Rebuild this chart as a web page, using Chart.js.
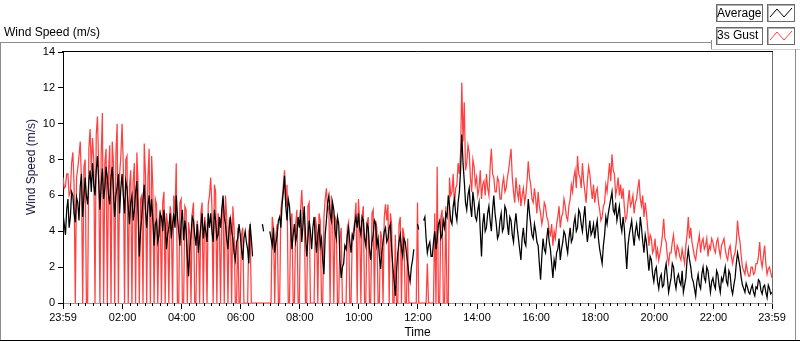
<!DOCTYPE html>
<html><head><meta charset="utf-8">
<script src="https://cdn.jsdelivr.net/npm/chart.js@4.4.0/dist/chart.umd.min.js"></script>
<style>
html,body{margin:0;padding:0;background:#fff;}
#wrap{position:relative;width:800px;height:342px;overflow:hidden;font-family:"Liberation Sans",Arial,sans-serif;}
#c{position:absolute;left:0;top:0;}
.ln{position:absolute;}
.txt{position:absolute;font-size:12px;color:#000;white-space:nowrap;line-height:14px;}
.box{position:absolute;border:1px solid #6a6a6a;box-shadow:inset 1px 1px 0 #b4b4b4;background:#fff;box-sizing:border-box;}
</style></head><body>
<div id="wrap">
  <div class="ln" style="left:0;top:42px;width:711px;height:1px;background:#8c8c8c"></div>
  <div class="ln" style="left:0;top:42px;width:1px;height:299px;background:#8c8c8c"></div>
  <div class="ln" style="left:711px;top:40px;width:1px;height:9px;background:#8c8c8c"></div>
  <div class="ln" style="left:711px;top:49px;width:89px;height:1px;background:#cfcfcf"></div>
  <div class="ln" style="left:795px;top:49px;width:1px;height:292px;background:#8c8c8c"></div>
  <div class="ln" style="left:0;top:340px;width:800px;height:1px;background:#000"></div>
  <canvas id="c" width="800" height="342"></canvas>
  <div class="txt" style="left:4px;top:25px">Wind Speed (m/s)</div>
  <div class="txt" style="left:31px;top:167px;transform:translate(-50%,-50%) rotate(-90deg);color:#15153a">Wind Speed (m/s)</div>
  <div class="box" style="left:716px;top:4px;width:47px;height:18px"></div>
  <div class="txt" style="left:717px;top:6px">Average</div>
  <div class="box" style="left:767px;top:4px;width:28px;height:18px"></div>
  <svg style="position:absolute;left:767px;top:4px" width="28" height="18"><polyline points="3,13 10,5 17,13 25,4" fill="none" stroke="#000" stroke-width="1"/></svg>
  <div class="box" style="left:716px;top:27px;width:47px;height:18px"></div>
  <div class="txt" style="left:717px;top:28px">3s Gust</div>
  <div class="box" style="left:767px;top:27px;width:28px;height:18px"></div>
  <svg style="position:absolute;left:767px;top:27px" width="28" height="18"><polyline points="3,13 10,5 17,13 25,4" fill="none" stroke="#ff4040" stroke-width="1"/></svg>
</div>
<script>
// sampling interval of the readings, in minutes from 23:59
const SAMPLE_MINUTES = 2.5;

// Average wind speed (m/s), one row per hour; null = no reading
const AVERAGE = [
  5.0,4.4, 3.8,5.2, 5.8,4.2, 4.8,6.2, 6.0,5.0, 4.5,5.9, 5.6,4.6, 6.5,7.2, 4.8,5.9, 7.0,6.0, 5.5,6.8, 7.4,6.2,
  7.8,6.6, 6.0,7.4, 8.2,6.8, 5.2,6.6, 7.5,5.8, 6.4,7.6, 7.0,6.0, 5.5,7.0, 7.6,6.2, 4.8,6.0, 6.5,7.2, 5.0,6.4,
  7.2,6.0, 5.0,6.8, 6.4,5.4, 4.4,5.6, 6.0,4.6, 5.2,6.2, 6.8,5.0, 2.6,4.0, 4.8,5.8, 6.6,5.2, 4.2,5.4, 6.0,4.8,
  5.8,4.6, 3.2,4.4, 4.6,3.4, 3.8,5.0, 4.8,4.0, 5.2,4.4, 3.0,3.8, 4.2,5.0, 3.6,4.4, 5.0,4.2, 6.0,4.8, 4.0,3.2,
  4.5,5.2, 3.5,4.6, 4.0,2.6, 1.5,3.0, 3.8,4.8, 4.6,3.8, 3.2,4.4, 2.8,3.6, 4.3,5.0, 3.6,4.4, 4.0,3.4, 5.0,4.2,
  5.0,4.0, 3.4,5.2, 4.6,3.6, 3.8,4.8, 4.2,5.2, 6.0,4.8, 4.4,3.6, 3.0,4.2, 4.8,4.0, 3.6,2.8, 2.4,3.4, 3.6,4.4,
  3.8,3.0, 2.4,3.6, 4.0,3.4, 3.0,2.2, 4.4,3.6, 2.6,null, null,null, null,null, null,null, 4.4,4.0, null,null, null,null,
  4.0,3.6, 3.2,4.2, 2.8,3.4, 3.8,4.6, 4.8,4.2, 5.5,6.2, 7.1,5.4, 4.6,5.8, 5.4,4.2, 3.0,3.8, 4.4,3.4, 3.8,4.8,
  4.2,5.2, 3.4,4.4, 5.4,3.8, 2.6,3.6, 4.6,4.0, 3.0,4.2, 4.8,3.6, 2.8,3.8, 4.4,3.2, 3.6,2.4, 1.6,3.8, 4.6,5.6,
  6.0,5.0, 4.6,5.6, 5.2,4.0, 3.6,4.8, 4.4,2.4, 1.4,2.0, 2.2,3.2, 3.0,3.8, 4.2,3.4, 2.8,3.8, 3.6,4.4, 4.8,4.2,
  5.0,4.2, 3.8,4.8, 4.6,3.6, 3.2,4.4, 4.2,3.0, 2.4,3.4, 3.8,4.6, 4.4,3.2, 3.6,2.6, 1.9,2.8, 3.4,4.0, 4.2,3.4,
  3.6,4.2, 4.4,3.0, 2.0,1.2, 0.4,1.8, 2.8,3.4, 3.8,3.0, 2.6,3.6, 3.4,2.8, 2.2,1.6, 1.2,2.0, 2.4,3.0, null,null,
  4.4,4.1, null,null, null,4.6, 4.8,3.6, 2.8,3.2, 3.4,2.6, 2.6,3.4, 4.0,3.0, 3.6,4.4, 4.6,3.6, 3.8,4.6, 4.2,5.0,
  4.8,6.0, 5.4,4.6, 4.4,5.4, 5.8,5.0, 4.6,5.6, 6.2,7.4, 9.4,7.8, 6.8,5.6, 5.2,6.0, 6.4,5.4, 4.8,6.2, 5.6,4.8,
  4.6,5.2, 5.6,4.0, 2.6,4.4, 5.0,4.0, 4.2,5.0, 5.4,4.6, 4.0,5.2, 6.0,5.0, 4.4,3.6, 3.8,4.6, 5.0,4.0, 4.2,5.4,
  5.2,4.4, 3.8,4.8, 4.6,3.8, 3.4,4.4, 5.0,4.2, 3.6,3.0, 2.4,3.6, 4.2,3.4, 3.2,4.6, 5.8,5.0, 4.4,3.8, 3.6,4.4,
  4.0,3.4, 3.2,2.2, 1.3,2.6, 3.6,3.0, 2.8,3.6, 4.2,3.4, 3.0,2.2, 1.4,2.4, 2.0,2.8, 3.0,3.6, 2.4,3.0, 3.4,4.0,
  3.8,3.2, 2.8,3.6, 4.2,3.4, 3.6,4.4, 4.8,4.0, 4.2,5.2, 5.0,4.4, 4.0,4.8, 5.4,4.2, 3.4,4.0, 4.6,3.8, 4.0,4.4,
  3.6,4.2, 4.6,3.6, 3.0,2.6, 2.2,3.2, 3.8,4.8, 4.4,5.0, 5.4,5.8, 6.2,5.2, 5.0,5.6, 4.6,5.0, 5.4,4.4, 4.0,4.8,
  4.2,3.0, 1.9,3.2, 3.8,4.2, 4.6,3.8, 3.2,4.0, 4.4,3.8, 3.6,4.8, 4.2,3.4, 2.8,3.8, 3.4,2.6, 1.8,2.6, 2.4,1.6,
  1.2,1.8, 2.0,1.2, 0.8,1.4, 1.6,0.9, 1.0,1.8, 2.2,1.4, 0.6,1.0, 1.4,2.2, 2.0,1.2, 0.8,1.4, 1.6,1.2, 1.0,1.8,
  0.6,1.0, 1.4,2.4, 3.0,2.4, 2.0,1.4, 1.2,0.8, 0.4,1.2, 1.6,1.0, 0.8,1.6, 2.0,1.4, 1.2,2.0, 1.8,1.2, 0.6,1.2,
  1.4,1.0, 0.8,1.8, 1.6,1.0, 0.6,1.4, 1.2,1.6, 2.0,1.2, 1.0,1.8, 1.6,0.8, 0.5,1.0, 1.4,2.2, 2.8,2.4, 2.0,1.4,
  1.0,0.8, 0.6,1.1, 0.9,0.6, 0.5,0.8, 1.0,0.6, 0.4,0.9, 0.8,1.3, 1.2,0.7, 0.5,0.9, 1.0,0.6, 0.3,1.0, 0.8,0.5,
  0.6
];

// 3 s gust (m/s), one row per hour
const GUST = [
  7.0,6.4, 6.5,7.2, 7.2,6.0, 6.2,7.8, 8.4,6.6, 0,7.0, 7.5,8.2, 9.0,6.8, 0,7.6, 8.0,0, 0,8.6, 9.7,7.4,
  9.2,8.0, 0,9.4, 10.4,7.6, 0,8.2, 10.6,0, 7.8,8.6, 0,7.4, 8.8,0, 9.0,7.8, 0,8.4, 10.0,0, 7.2,8.2,
  10.0,7.6, 0,8.0, 8.2,0, 6.5,7.4, 0,6.8, 7.8,0, 8.4,6.6, 0,5.8, 6.0,0, 8.9,7.2, 0,7.0, 8.6,0,
  8.2,6.4, 0,5.8, 5.5,0, 4.6,5.2, 0,5.6, 6.2,0, 5.0,4.4, 0,5.4, 4.8,0, 6.0,5.0, 7.8,0, 0,5.6,
  5.8,0, 0,5.4, 5.2,0, 4.5,3.8, 0,5.0, 5.6,0, 0,4.6, 4.0,0, 5.0,5.6, 0,4.8, 4.4,0, 5.5,6.0,
  7.0,5.4, 0,6.6, 6.2,0, 5.0,4.4, 0,5.2, 5.6,0, 6.0,4.8, 0,4.6, 4.8,0, 5.4,4.2, 0,0, 4.2,0,
  0,3.8, 4.2,0, 0,0, 0,4.0, 4.3,0, 0,0, 0,0, 0,0, 0,0, 0,0, 0,0, 0,0,
  0,0, 4.8,4.2, 0,3.8, 4.4,0, 0,5.2, 5.8,6.6, 7.4,5.4, 6.6,0, 0,4.6, 5.0,0, 0,4.4, 5.2,0,
  0,5.2, 6.3,4.6, 5.0,0, 0,5.4, 5.6,0, 0,0, 0,4.8, 4.2,0, 5.0,4.6, 0,0, 4.8,5.8, 6.4,5.2,
  5.4,0, 6.0,5.0, 0,4.8, 4.6,0, 0,3.6, 4.2,0, 0,0, 0,4.2, 4.5,0, 0,3.8, 4.0,4.6, 5.6,0,
  5.8,4.6, 0,4.8, 5.4,0, 0,4.4, 4.8,0, 0,5.0, 5.2,0, 4.6,4.2, 0,0, 4.0,3.6, 0,4.8, 5.5,4.6,
  5.5,0, 5.0,4.4, 0,0, 3.8,0, 0,4.4, 4.8,0, 4.2,3.8, 0,0, 3.6,0, 0,0, 0,0, 0,0,
  5.6,0, 0,0, 0,0, 0,0, 2.2,0, 0,0, 0,0, 5.0,0, 7.6,0, 0,4.8, 5.2,0, 0,5.4,
  0,0, 7.0,6.0, 6.2,7.2, 5.4,6.4, 6.6,7.8, 7.2,8.4, 12.3,9.0, 11.2,7.4, 7.8,8.8, 8.4,7.0, 6.2,8.0, 7.6,6.6,
  7.0,6.0, 6.4,7.4, 5.8,6.6, 6.8,6.0, 7.2,6.4, 6.0,7.6, 8.6,7.2, 7.0,6.2, 6.2,7.0, 6.8,5.8, 5.8,6.6, 7.0,6.2,
  6.4,7.0, 7.4,8.0, 8.6,7.0, 6.2,5.6, 7.0,6.2, 5.8,6.6, 5.4,6.0, 6.4,5.6, 6.0,6.8, 7.9,7.0, 6.6,5.8, 5.6,6.4,
  5.8,5.0, 6.2,5.4, 5.0,4.4, 4.8,5.6, 5.4,4.8, 4.6,4.0, 3.8,4.4, 3.2,4.0, 3.6,4.4, 4.8,5.4, 4.2,4.8, 5.0,5.8,
  5.4,4.8, 4.6,5.4, 5.8,6.6, 6.2,7.0, 7.4,6.4, 8.2,7.2, 7.0,6.4, 7.8,6.8, 6.2,5.6, 6.8,7.6, 7.2,6.4, 5.8,6.6,
  5.6,6.2, 6.4,5.6, 5.2,4.6, 4.8,5.4, 5.6,6.6, 6.2,7.0, 7.8,6.8, 8.3,7.4, 7.2,6.0, 6.4,7.0, 6.0,6.6, 5.8,6.4,
  5.4,4.6, 4.8,5.6, 6.3,5.4, 5.6,6.0, 5.0,5.6, 5.8,6.4, 6.9,5.8, 5.4,6.0, 4.8,5.6, 5.0,4.2, 3.2,3.8, 3.6,2.8,
  3.0,3.6, 2.6,3.0, 2.4,2.8, 3.2,3.8, 4.7,3.6, 3.4,2.6, 2.2,2.8, 2.8,3.4, 3.8,3.0, 2.6,3.2, 3.0,2.6, 2.4,3.0,
  2.6,2.2, 3.2,3.8, 4.8,3.6, 4.2,3.4, 3.0,2.6, 2.4,3.0, 3.4,3.8, 2.8,3.4, 3.6,3.0, 3.2,3.6, 2.6,3.2, 3.0,3.6,
  3.4,3.0, 2.8,3.4, 3.6,3.0, 2.6,3.2, 3.4,3.6, 3.0,2.6, 2.4,3.0, 3.2,2.6, 2.2,2.6, 2.8,3.4, 4.6,3.8, 3.4,2.6,
  2.0,1.8, 1.6,2.2, 1.8,1.5, 1.5,2.0, 2.0,1.6, 1.7,2.2, 2.2,2.6, 3.4,2.4, 2.0,2.6, 3.2,2.2, 1.6,1.9, 2.0,1.7,
  1.4
];

// x axis: minutes after 23:59
const X_TICK_VALUES = [0,121,241,361,481,601,721,841,961,1081,1201,1321,1440];
const X_TICK_LABELS = ["23:59","02:00","04:00","06:00","08:00","10:00","12:00","14:00","16:00","18:00","20:00","22:00","23:59"];
const X_MIN = 0, X_MAX = 1440;
const Y_MIN = 0, Y_MAX = 14, Y_STEP = 2;
const MINOR_STEP = 15;

const toPoints = arr => arr.map((v, i) => ({x: i * SAMPLE_MINUTES, y: v}));

const minorTicks = [];
for (let k = 0; k < X_TICK_VALUES.length - 1; k++) {
  for (let m = X_TICK_VALUES[k] + MINOR_STEP; m < X_TICK_VALUES[k + 1] - 5; m += MINOR_STEP) minorTicks.push(m);
}

const framePlugin = {
  id: 'frame',
  afterDraw(chart) {
    const {ctx, chartArea: a, scales: {x}} = chart;
    ctx.save();
    ctx.lineWidth = 1;
    ctx.strokeStyle = '#000';
    ctx.beginPath();
    for (const m of minorTicks) {
      const px = Math.round(x.getPixelForValue(m)) + 0.5;
      ctx.moveTo(px, a.bottom); ctx.lineTo(px, a.bottom + 3);
    }
    ctx.stroke();
    ctx.beginPath();
    ctx.moveTo(a.left - 1, a.top - 0.5); ctx.lineTo(a.right + 1, a.top - 0.5);
    ctx.stroke();
    ctx.strokeStyle = '#6e6e6e';
    ctx.beginPath();
    ctx.moveTo(a.right + 0.5, a.top); ctx.lineTo(a.right + 0.5, a.bottom);
    ctx.stroke();
    ctx.restore();
  }
};

const tickFont = {family: '"Liberation Sans", Arial, sans-serif', size: 11};

new Chart(document.getElementById('c'), {
  type: 'line',
  data: {
    datasets: [
      {label: 'Average', data: toPoints(AVERAGE), borderColor: '#000', borderWidth: 1.25, pointRadius: 0, tension: 0, spanGaps: false, order: 0},
      {label: '3s Gust', data: toPoints(GUST), borderColor: '#ff4040', borderWidth: 1.25, pointRadius: 0, tension: 0, order: 1}
    ]
  },
  options: {
    responsive: false,
    devicePixelRatio: 1,
    animation: false,
    events: [],
    layout: {padding: {left: 0, top: 52, right: 28, bottom: 0}},
    plugins: {legend: {display: false}, tooltip: {enabled: false}},
    scales: {
      x: {
        type: 'linear', min: X_MIN, max: X_MAX,
        afterBuildTicks: s => { s.ticks = X_TICK_VALUES.map(v => ({value: v})); },
        afterFit: s => { s.height = 39; },
        ticks: {autoSkip: false, maxRotation: 0, padding: 2, color: '#000', font: tickFont,
                callback: (v, i) => X_TICK_LABELS[i]},
        grid: {drawOnChartArea: false, drawTicks: true, tickLength: 6, tickColor: '#000'},
        border: {display: true, color: '#9a9a9a', width: 1},
        title: {display: true, text: 'Time', color: '#000', padding: {top: 0, bottom: 2},
                font: {family: '"Liberation Sans", Arial, sans-serif', size: 12}}
      },
      y: {
        min: Y_MIN, max: Y_MAX,
        afterFit: s => { s.width = 63; },
        ticks: {stepSize: Y_STEP, padding: 3, color: '#000', font: tickFont},
        grid: {drawOnChartArea: false, drawTicks: true, tickLength: 5, tickColor: '#000'},
        border: {display: true, color: '#000', width: 1}
      }
    }
  },
  plugins: [framePlugin]
});
</script>
</body></html>
